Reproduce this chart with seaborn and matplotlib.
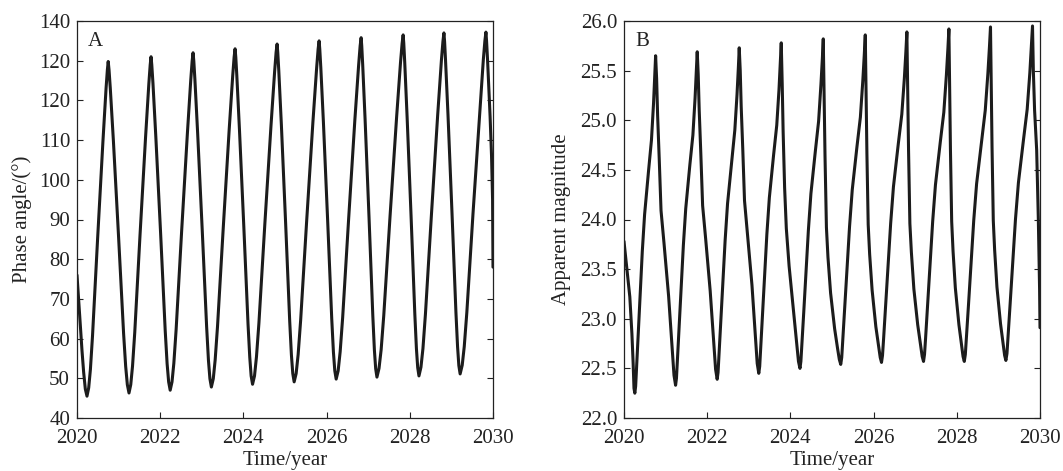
import numpy as np
import pandas as pd
import matplotlib
matplotlib.use("Agg")
import matplotlib.pyplot as plt
import seaborn as sns

# ---------------- data ----------------
years_a = [
    2020.00, 2020.06, 2020.12, 2020.16, 2020.20,
    2020.24, 2020.281, 2020.322, 2020.373, 2020.495, 2020.623, 2020.699, 2020.730,
    2020.75, 2020.77, 2020.80, 2020.875, 2021.00, 2021.12, 2021.17, 2021.21,
    2021.25, 2021.292, 2021.335, 2021.388, 2021.515, 2021.648, 2021.727, 2021.759,
    2021.78, 2021.798, 2021.826, 2021.895, 2022.01, 2022.12, 2022.166, 2022.203,
    2022.24, 2022.284, 2022.328, 2022.383, 2022.515, 2022.653, 2022.735, 2022.768,
    2022.79, 2022.808, 2022.834, 2022.90, 2023.01, 2023.116, 2023.16, 2023.195,
    2023.23, 2023.276, 2023.321, 2023.378, 2023.515, 2023.658, 2023.743, 2023.777,
    2023.80, 2023.817, 2023.842, 2023.905, 2024.01, 2024.111, 2024.153, 2024.186,
    2024.22, 2024.267, 2024.314, 2024.373, 2024.515, 2024.663, 2024.751, 2024.786,
    2024.81, 2024.826, 2024.851, 2024.913, 2025.015, 2025.113, 2025.154, 2025.187,
    2025.22, 2025.268, 2025.316, 2025.376, 2025.52, 2025.67, 2025.76, 2025.796,
    2025.82, 2025.836, 2025.861, 2025.923, 2026.025, 2026.123, 2026.164, 2026.197,
    2026.23, 2026.278, 2026.326, 2026.386, 2026.53, 2026.68, 2026.77, 2026.806,
    2026.83, 2026.845, 2026.868, 2026.925, 2027.02, 2027.111, 2027.149, 2027.18,
    2027.21, 2027.26, 2027.311, 2027.374, 2027.525, 2027.683, 2027.777, 2027.815,
    2027.84, 2027.855, 2027.878, 2027.935, 2028.03, 2028.121, 2028.159, 2028.19,
    2028.22, 2028.268, 2028.316, 2028.376, 2028.52, 2028.67, 2028.76, 2028.796,
    2028.82, 2028.836, 2028.859, 2028.918, 2029.015, 2029.109, 2029.148, 2029.179,
    2029.21, 2029.26, 2029.309, 2029.371, 2029.52, 2029.675, 2029.768, 2029.805,
    2029.83, 2029.845, 2029.87, 2029.93, 2029.965, 2029.99, 2030.0]

phase_a = [
    76.0, 66.5, 57.0, 51.5, 47.3,
    45.5, 47.6, 52.2, 60.7, 85.1, 109.6, 123.1, 127.7,
    129.8, 127.7, 123.1, 109.8, 85.5, 61.3, 53.0, 48.4,
    46.3, 48.4, 53.1, 61.5, 86.1, 110.7, 124.2, 128.9,
    131.0, 128.9, 124.3, 110.8, 86.5, 62.1, 53.7, 49.1,
    47.0, 49.1, 53.8, 62.3, 87.0, 111.6, 125.2, 129.9,
    132.0, 129.9, 125.3, 111.8, 87.4, 63.0, 54.5, 49.9,
    47.8, 49.9, 54.6, 63.1, 87.8, 112.6, 126.2, 130.9,
    133.0, 130.9, 126.2, 112.7, 88.2, 63.7, 55.3, 50.6,
    48.5, 50.6, 55.4, 63.9, 88.8, 113.6, 127.3, 132.1,
    134.2, 132.1, 127.4, 113.8, 89.1, 64.4, 55.9, 51.2,
    49.1, 51.2, 56.0, 64.6, 89.5, 114.4, 128.1, 132.9,
    135.0, 132.9, 128.2, 114.6, 89.8, 65.1, 56.6, 51.9,
    49.8, 51.9, 56.7, 65.3, 90.2, 115.2, 128.9, 133.7,
    135.8, 133.7, 128.9, 115.3, 90.5, 65.7, 57.1, 52.4,
    50.3, 52.5, 57.2, 65.8, 90.8, 115.8, 129.6, 134.3,
    136.5, 134.4, 129.6, 115.9, 91.0, 66.1, 57.5, 52.7,
    50.6, 52.8, 57.5, 66.2, 91.2, 116.3, 130.1, 134.8,
    137.0, 134.9, 130.1, 116.4, 91.5, 66.6, 58.0, 53.2,
    51.1, 53.3, 58.0, 66.6, 91.6, 115.7, 130.3, 135.0,
    137.2, 135.0, 130.0, 116.0, 106.0, 95.0, 78.0]

years_b = [
    2020.00, 2020.07, 2020.14, 2020.19, 2020.22, 2020.24,
    2020.26, 2020.28, 2020.30, 2020.34, 2020.44, 2020.495, 2020.59, 2020.66, 2020.71, 2020.74,
    2020.76, 2020.784, 2020.808, 2020.846, 2020.89, 2020.962, 2021.072, 2021.154, 2021.202,
    2021.24, 2021.261, 2021.282, 2021.323, 2021.427, 2021.484, 2021.583, 2021.656, 2021.708, 2021.739,
    2021.76, 2021.784, 2021.808, 2021.846, 2021.89, 2021.962, 2022.072, 2022.154, 2022.202,
    2022.24, 2022.261, 2022.282, 2022.325, 2022.431, 2022.489, 2022.590, 2022.664, 2022.717, 2022.749,
    2022.77, 2022.794, 2022.817, 2022.855, 2022.897, 2022.967, 2023.076, 2023.155, 2023.202,
    2023.24, 2023.262, 2023.283, 2023.326, 2023.434, 2023.494, 2023.596, 2023.672, 2023.726, 2023.758,
    2023.78, 2023.803, 2023.825, 2023.861, 2023.902, 2023.969, 2024.073, 2024.149, 2024.194,
    2024.23, 2024.252, 2024.275, 2024.320, 2024.432, 2024.493, 2024.600, 2024.678, 2024.734, 2024.768,
    2024.79, 2024.811, 2024.832, 2024.866, 2024.903, 2024.966, 2025.063, 2025.134, 2025.176,
    2025.21, 2025.234, 2025.257, 2025.304, 2025.422, 2025.487, 2025.599, 2025.682, 2025.741, 2025.776,
    2025.80, 2025.820, 2025.839, 2025.870, 2025.905, 2025.964, 2026.054, 2026.120, 2026.159,
    2026.19, 2026.214, 2026.239, 2026.288, 2026.410, 2026.477, 2026.593, 2026.678, 2026.739, 2026.776,
    2026.80, 2026.82, 2026.84, 2026.872, 2026.908, 2026.968, 2027.06, 2027.128, 2027.168,
    2027.20, 2027.224, 2027.249, 2027.298, 2027.420, 2027.487, 2027.603, 2027.688, 2027.749, 2027.786,
    2027.81, 2027.829, 2027.847, 2027.877, 2027.910, 2027.965, 2028.051, 2028.113, 2028.150,
    2028.18, 2028.205, 2028.230, 2028.281, 2028.407, 2028.476, 2028.596, 2028.684, 2028.747, 2028.785,
    2028.81, 2028.829, 2028.847, 2028.877, 2028.910, 2028.965, 2029.051, 2029.113, 2029.150,
    2029.18, 2029.206, 2029.231, 2029.282, 2029.410, 2029.481, 2029.602, 2029.692, 2029.756, 2029.794,
    2029.82, 2029.84, 2029.87, 2029.92, 2029.96, 2029.99, 2030.0]

mag_b = [
    23.78, 23.50, 23.22, 22.85, 22.55, 22.30,
    22.25, 22.32, 22.49, 22.83, 23.68, 24.05, 24.49, 24.80, 25.17, 25.45,
    25.65, 25.42, 25.05, 24.62, 24.09, 23.76, 23.23, 22.73, 22.43,
    22.33, 22.40, 22.57, 22.90, 23.74, 24.11, 24.55, 24.85, 25.22, 25.49,
    25.69, 25.46, 25.10, 24.67, 24.14, 23.81, 23.28, 22.79, 22.49,
    22.39, 22.46, 22.62, 22.96, 23.79, 24.16, 24.59, 24.90, 25.26, 25.53,
    25.73, 25.50, 25.14, 24.71, 24.19, 23.86, 23.34, 22.84, 22.55,
    22.45, 22.52, 22.68, 23.02, 23.85, 24.22, 24.65, 24.95, 25.31, 25.58,
    25.78, 25.37, 24.89, 24.32, 23.91, 23.53, 23.09, 22.76, 22.57,
    22.50, 22.57, 22.73, 23.06, 23.89, 24.26, 24.69, 24.99, 25.36, 25.62,
    25.82, 25.23, 24.64, 23.92, 23.62, 23.26, 22.90, 22.70, 22.59,
    22.54, 22.61, 22.77, 23.10, 23.93, 24.30, 24.73, 25.03, 25.40, 25.66,
    25.86, 25.27, 24.67, 23.95, 23.65, 23.29, 22.92, 22.73, 22.61,
    22.56, 22.63, 22.79, 23.13, 23.96, 24.33, 24.76, 25.06, 25.42, 25.69,
    25.89, 25.29, 24.70, 23.96, 23.67, 23.30, 22.94, 22.74, 22.62,
    22.57, 22.64, 22.80, 23.14, 23.98, 24.35, 24.78, 25.08, 25.45, 25.72,
    25.92, 25.32, 24.71, 23.98, 23.68, 23.31, 22.94, 22.74, 22.62,
    22.57, 22.64, 22.81, 23.14, 23.99, 24.36, 24.79, 25.10, 25.47, 25.74,
    25.94, 25.34, 24.73, 23.99, 23.69, 23.32, 22.95, 22.75, 22.63,
    22.58, 22.65, 22.82, 23.15, 24.00, 24.37, 24.80, 25.11, 25.48, 25.75,
    25.95, 25.50, 25.10, 24.70, 24.00, 23.30, 22.91]

x_ticks = [2020, 2022, 2024, 2026, 2028, 2030]
x_tick_labels = ["2020", "2022", "2024", "2026", "2028", "2030"]
a_yticks = [40, 50, 60, 70, 80, 90, 100, 110, 120, 130, 140]
a_ytick_labels = ["40", "50", "60", "70", "80", "90", "100", "110", "120", "120", "140"]
b_yticks = [22.0, 22.5, 23.0, 23.5, 24.0, 24.5, 25.0, 25.5, 26.0]
b_ytick_labels = ["22.0", "22.5", "23.0", "23.5", "24.0", "24.5", "25.0", "25.5", "26.0"]

# ---------------- style ----------------
sns.set_style("ticks")
plt.rcParams["font.family"] = ["Liberation Serif", "DejaVu Serif"]
plt.rcParams["axes.linewidth"] = 0.9
plt.rcParams["axes.edgecolor"] = "#222222"

FS = 15
TXT = "#222222"
LINE_COLOR = "#1c1c1c"

fig = plt.figure(figsize=(10.63, 4.71), dpi=100)
ax_a = fig.add_axes([77 / 1063, 1 - 418 / 471, 416 / 1063, 397 / 471])
ax_b = fig.add_axes([624 / 1063, 1 - 418 / 471, 416 / 1063, 397 / 471])

df_a = pd.DataFrame({"year": years_a, "phase": phase_a})
df_b = pd.DataFrame({"year": years_b, "mag": mag_b})

sns.lineplot(data=df_a, x="year", y="phase", ax=ax_a, color=LINE_COLOR,
             linewidth=2.2, estimator=None, sort=False)
sns.lineplot(data=df_b, x="year", y="mag", ax=ax_b, color=LINE_COLOR,
             linewidth=2.2, estimator=None, sort=False)

for ax in (ax_a, ax_b):
    ax.set_xlim(2020, 2030)
    ax.set_xticks(x_ticks)
    ax.set_xticklabels(x_tick_labels)
    ax.tick_params(axis="both", direction="in", length=4.5, width=0.8,
                   labelsize=FS, colors=TXT, labelcolor=TXT)
    ax.tick_params(axis="x", pad=8)
    ax.tick_params(axis="y", pad=5, right=True)
    ax.set_xlabel("Time/year", fontsize=FS, labelpad=2, color=TXT)

ax_a.set_ylim(40, 140)
ax_a.set_yticks(a_yticks)
ax_a.set_yticklabels(a_ytick_labels)
ax_a.set_ylabel("Phase angle/(°)", fontsize=FS, labelpad=5, color=TXT)
ax_a.text(0.027, 0.972, "A", transform=ax_a.transAxes, ha="left", va="top",
          fontsize=FS, color=TXT)

ax_b.set_ylim(22.0, 26.0)
ax_b.set_yticks(b_yticks)
ax_b.set_yticklabels(b_ytick_labels)
ax_b.set_ylabel("Apparent magnitude", fontsize=FS, labelpad=7, color=TXT)
ax_b.text(0.027, 0.972, "B", transform=ax_b.transAxes, ha="left", va="top",
          fontsize=FS, color=TXT)

fig.savefig("out.png", dpi=100, facecolor="white")
